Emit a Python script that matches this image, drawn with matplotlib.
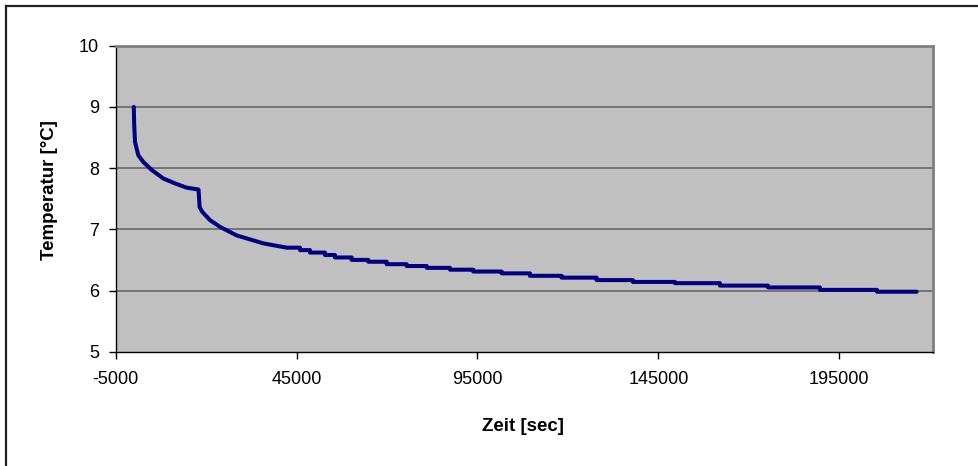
import numpy as np
import matplotlib
matplotlib.use("Agg")
import matplotlib.pyplot as plt
from matplotlib.lines import Line2D

plt.rcParams['font.family'] = ['Liberation Sans', 'DejaVu Sans']

# Abkühlkurve: glatter Anfangsteil
t_decay = [0, 100, 330, 1240, 2630, 4950, 8150, 11390, 14620, 17900, 18200, 19000, 21060, 23820, 28440, 35800, 42260]
temp_decay = [9.00, 8.73, 8.43, 8.21, 8.10, 7.97, 7.83, 7.75, 7.68, 7.65, 7.36, 7.28, 7.15, 7.04, 6.90, 6.77, 6.70]

# danach Stufen (Messauflösung)
step_t = [42260, 45940, 48700, 52850, 55610, 60230, 64820, 69900, 75430, 80960, 87400,
          93840, 101690, 109510, 118270, 127950, 137980, 149590, 162030, 175290, 189670, 205420]
step_temp = [6.70, 6.66, 6.62, 6.58, 6.54, 6.50, 6.47, 6.43, 6.40, 6.37, 6.34,
             6.31, 6.28, 6.24, 6.21, 6.17, 6.14, 6.12, 6.08, 6.05, 6.01, 5.98]
t_end = 216400

x_ticks = [-5000, 45000, 95000, 145000, 195000]
y_ticks = [5, 6, 7, 8, 9, 10]

# Stufen-Ecken zusammensetzen
st = np.array(step_t + [t_end])
sv = np.array(step_temp)
step_x = np.column_stack([st[:-1], st[1:]]).ravel()
step_y = np.repeat(sv, 2)
time = np.concatenate([t_decay, step_x])
temp = np.concatenate([temp_decay, step_y])

fig = plt.figure(figsize=(9.79, 4.66), dpi=100)
ax = fig.add_axes([115.7 / 979, 1 - 351.7 / 466, (933.3 - 115.7) / 979, (351.7 - 45.7) / 466])
ax.set_facecolor('#C0C0C0')

ax.plot(time, temp, color='#000080', lw=2.9, solid_capstyle='round', solid_joinstyle='round', zorder=3)

ax.set_xlim(-5000, 221000)
ax.set_ylim(5, 10)
ax.set_xticks(x_ticks)
ax.set_yticks(y_ticks)
ax.set_xticklabels([str(v) for v in x_ticks])

for y in y_ticks[1:-1]:
    ax.axhline(y, color='#606060', lw=1.1, zorder=1)

ax.spines['left'].set_color('black')
ax.spines['bottom'].set_color('black')
ax.spines['left'].set_linewidth(1.0)
ax.spines['bottom'].set_linewidth(1.0)
ax.spines['top'].set_color('#808080')
ax.spines['right'].set_color('#808080')
ax.spines['top'].set_linewidth(2.0)
ax.spines['right'].set_linewidth(2.0)

ax.tick_params(direction='out', length=5, width=1, color='black', labelsize=13)
ax.tick_params(axis='y', pad=7)
ax.tick_params(axis='x', pad=9)

ax.set_ylabel('Temperatur [°C]', fontsize=13.5, fontweight='bold')
ax.yaxis.set_label_coords(-0.0804, 0.528)
ax.yaxis.label.set_verticalalignment('center')
ax.set_xlabel('Zeit [sec]', fontsize=13.5, fontweight='bold')
ax.xaxis.set_label_coords(0.498, -0.245)
ax.xaxis.label.set_verticalalignment('center')

# äußerer Rahmen
fig.add_artist(Line2D([6.5 / 979, 1], [1 - 5.5 / 466] * 2, transform=fig.transFigure, color='#222222', lw=1.6))
fig.add_artist(Line2D([6.5 / 979] * 2, [0, 1 - 5.5 / 466], transform=fig.transFigure, color='#222222', lw=1.6))

fig.savefig('out.png', dpi=100)
